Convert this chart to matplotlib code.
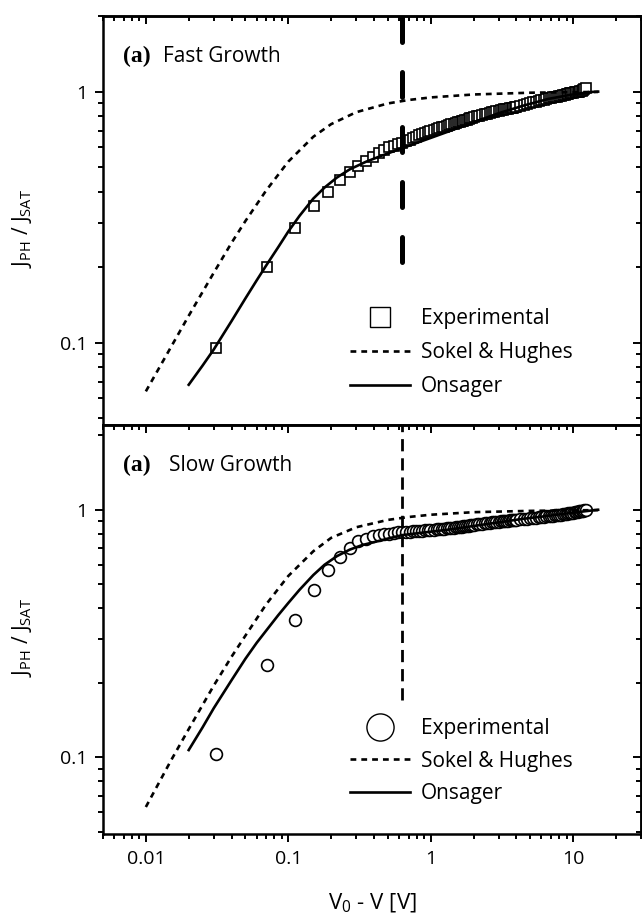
import numpy as np
import matplotlib
matplotlib.use('Agg')
from matplotlib import pyplot as plt
from matplotlib.ticker import FuncFormatter, NullFormatter

plt.rcParams['font.family'] = ['Open Sans', 'DejaVu Sans']

# measured bias points (V0 - V), shared by both panels
exp_v = [0.031, 0.071, 0.111, 0.151, 0.191, 0.231, 0.271, 0.311, 0.351, 0.391,
         0.431, 0.471, 0.511, 0.551, 0.591, 0.631, 0.671, 0.711, 0.751, 0.791,
         0.831, 0.871, 0.911, 0.951, 0.991,
         1.05, 1.1, 1.15, 1.2, 1.25, 1.3, 1.35, 1.4, 1.45, 1.5,
         1.55, 1.6, 1.65, 1.7, 1.75, 1.8, 1.85, 1.9, 1.95, 2.0,
         2.1, 2.2, 2.3, 2.4, 2.5, 2.6, 2.7, 2.8, 2.9, 3.0,
         3.1, 3.2, 3.3, 3.4, 3.5, 3.6, 3.7, 3.8, 3.9, 4.0,
         4.25, 4.5, 4.75, 5.0, 5.25, 5.5, 5.75, 6.0, 6.25, 6.5, 6.75, 7.0,
         7.25, 7.5, 7.75, 8.0, 8.25, 8.5, 8.75, 9.0, 9.25, 9.5, 9.75, 10.0,
         10.25, 10.5, 10.75, 11.0, 11.25, 11.5, 11.75, 12.0, 12.25]

# fast growth, experimental J_PH / J_SAT
fast_exp = [0.095, 0.20, 0.285, 0.35, 0.40, 0.445, 0.48, 0.505, 0.53, 0.55,
            0.57, 0.585, 0.60, 0.61, 0.618, 0.625, 0.635, 0.644, 0.653, 0.661,
            0.67, 0.677, 0.685, 0.692, 0.70,
            0.705, 0.71, 0.715, 0.72, 0.725, 0.73, 0.735, 0.74, 0.745, 0.75,
            0.754, 0.758, 0.762, 0.766, 0.77, 0.774, 0.778, 0.782, 0.786, 0.79,
            0.796, 0.801, 0.806, 0.811, 0.816, 0.821, 0.826, 0.831, 0.836, 0.84,
            0.843, 0.846, 0.849, 0.852, 0.855, 0.858, 0.861, 0.864, 0.867, 0.87,
            0.877, 0.885, 0.892, 0.90, 0.906, 0.912, 0.919, 0.925, 0.93, 0.935, 0.94, 0.945,
            0.949, 0.952, 0.956, 0.96, 0.964, 0.968, 0.971, 0.975, 0.979, 0.983, 0.986, 0.99,
            0.992, 0.995, 0.997, 1.0, 1.005, 1.01, 1.015, 1.02, 1.03]

# slow growth, experimental J_PH / J_SAT
slow_exp = [0.103, 0.235, 0.36, 0.475, 0.57, 0.645, 0.70, 0.745, 0.765, 0.78,
            0.79, 0.795, 0.80, 0.805, 0.81, 0.812, 0.814, 0.816, 0.818, 0.82,
            0.822, 0.824, 0.826, 0.828, 0.83,
            0.832, 0.834, 0.836, 0.838, 0.84, 0.842, 0.844, 0.846, 0.848, 0.85,
            0.852, 0.854, 0.856, 0.858, 0.86, 0.862, 0.864, 0.866, 0.868, 0.87,
            0.873, 0.876, 0.879, 0.882, 0.885, 0.887, 0.889, 0.891, 0.893, 0.895,
            0.897, 0.899, 0.901, 0.903, 0.905, 0.906, 0.907, 0.908, 0.909, 0.91,
            0.914, 0.918, 0.921, 0.925, 0.927, 0.93, 0.932, 0.935, 0.937, 0.94, 0.942, 0.945,
            0.947, 0.95, 0.952, 0.955, 0.957, 0.96, 0.962, 0.965, 0.967, 0.97, 0.972, 0.975,
            0.977, 0.98, 0.982, 0.985, 0.987, 0.99, 0.992, 0.995, 1.0]

# Sokel & Hughes curves
fast_sh_v = [0.01, 0.015, 0.02, 0.03, 0.04, 0.05, 0.07, 0.1, 0.15, 0.2, 0.3, 0.5, 0.7,
             1, 2, 5, 10, 15]
fast_sh = [0.064, 0.096, 0.128, 0.19, 0.25, 0.305, 0.404, 0.526, 0.661, 0.742, 0.828,
           0.897, 0.926, 0.948, 0.974, 0.99, 0.995, 0.997]
slow_sh_v = [0.01, 0.015, 0.02, 0.03, 0.04, 0.05, 0.07, 0.1, 0.15, 0.2, 0.3, 0.5, 0.7,
             1, 2, 5, 10, 15]
slow_sh = [0.063, 0.097, 0.13, 0.195, 0.255, 0.31, 0.415, 0.54, 0.68, 0.77, 0.85,
           0.91, 0.935, 0.955, 0.978, 0.99, 0.995, 0.997]

# Onsager curves
fast_ons_v = [0.02, 0.025, 0.03, 0.04, 0.05, 0.06, 0.07, 0.085, 0.1, 0.12, 0.15, 0.18,
              0.22, 0.27, 0.35, 0.45, 0.63, 0.9, 1.3, 2, 3, 4.5, 6.7, 9.5, 12.8, 15]
fast_ons = [0.068, 0.081, 0.094, 0.122, 0.15, 0.177, 0.203, 0.24, 0.277, 0.32, 0.375,
            0.415, 0.455, 0.49, 0.525, 0.555, 0.595, 0.64, 0.69, 0.755, 0.82, 0.88,
            0.935, 0.97, 0.995, 1.0]
slow_ons_v = [0.02, 0.025, 0.03, 0.04, 0.05, 0.06, 0.07, 0.085, 0.1, 0.12, 0.15, 0.18,
              0.22, 0.27, 0.33, 0.4, 0.5, 0.63, 0.9, 1.3, 2, 3, 4.5, 6.7, 9.5, 12.8, 15]
slow_ons = [0.107, 0.132, 0.158, 0.205, 0.25, 0.29, 0.325, 0.375, 0.42, 0.475, 0.545,
            0.60, 0.65, 0.69, 0.72, 0.74, 0.765, 0.79, 0.81, 0.83, 0.86, 0.89, 0.92,
            0.945, 0.97, 0.99, 1.0]

# vertical dashed markers
vline_v = 0.625
fast_vline_y = [0.21, 2.0]
slow_vline_y = [0.17, 2.2]


def style_axes(ax, ylim):
    ax.set_xscale('log')
    ax.set_yscale('log')
    ax.set_xlim(0.005, 30)
    ax.set_ylim(*ylim)
    for s in ax.spines.values():
        s.set_linewidth(1.8)
    ax.tick_params(which='both', direction='out', width=1.4, labelsize=14,
                   top=False, right=False, pad=6)
    ax.tick_params(which='major', length=5.5)
    ax.tick_params(which='minor', length=3.5)
    fmt = FuncFormatter(lambda v, p: f'{v:g}')
    ax.xaxis.set_major_formatter(fmt)
    ax.yaxis.set_major_formatter(fmt)
    ax.xaxis.set_minor_formatter(NullFormatter())
    ax.yaxis.set_minor_formatter(NullFormatter())
    # inward ticks on top and right
    secx = ax.secondary_xaxis('top')
    secy = ax.secondary_yaxis('right')
    for sec, axis in ((secx, secx.xaxis), (secy, secy.yaxis)):
        sec.tick_params(which='both', direction='in', width=1.4)
        sec.tick_params(which='major', length=5.5)
        sec.tick_params(which='minor', length=3.5)
        axis.set_major_formatter(NullFormatter())
        axis.set_minor_formatter(NullFormatter())
        for s in sec.spines.values():
            s.set_linewidth(1.8)
    ax.set_ylabel(r'J$_\mathregular{PH}$ / J$_\mathregular{SAT}$', fontsize=15)
    ax.yaxis.set_label_coords(-0.128, 0.48)


fig = plt.figure(figsize=(6.42, 9.16), dpi=100)
ax1 = fig.add_axes([0.1604, 0.536, 0.838, 0.4465])
ax2 = fig.add_axes([0.1604, 0.0895, 0.838, 0.4465])

panels = [
    (ax1, fast_exp, 's', 7.5, fast_sh_v, fast_sh, fast_ons_v, fast_ons, fast_vline_y,
     (0.047, 2.0), 'Fast Growth', 0.1115, 2.0, 0.286, 0.62),
    (ax2, slow_exp, 'o', 8.5, slow_sh_v, slow_sh, slow_ons_v, slow_ons, slow_vline_y,
     (0.049, 2.2), 'Slow Growth', 0.123, 2.3, 0.283, 0.55),
]

for ax, ydat, mk, ms, shv, sh, onv, ons, vly, ylim, title, tx, mscale, ly, lsp in panels:
    style_axes(ax, ylim)
    ax.plot(exp_v, ydat, linestyle='none', marker=mk, ms=ms, mfc='white',
            mec='black', mew=1.2, label='Experimental', zorder=2)
    ax.plot(shv, sh, color='black', lw=1.9, dashes=(2.2, 1.9), label='Sokel & Hughes', zorder=3)
    ax.plot(onv, ons, color='black', lw=1.9, label='Onsager', zorder=3)
    if ax is ax1:
        ax.plot([vline_v, vline_v], vly, color='black', lw=3.6, dashes=(5.0, 6.0),
                dash_capstyle='round', zorder=4)
    else:
        ax.plot([vline_v, vline_v], vly, color='black', lw=2.0, dashes=(4.4, 2.5),
                zorder=4)
    ax.text(0.037, 0.888, '(a)', transform=ax.transAxes, fontsize=17,
            fontweight='bold', family='Liberation Serif', va='baseline')
    ax.text(tx, 0.888, title, transform=ax.transAxes, fontsize=15, va='baseline')
    leg = ax.legend(loc='upper left', bbox_to_anchor=(0.459, ly), frameon=False,
                    fontsize=15, handlelength=2.9, handletextpad=0.5, borderpad=0,
                    borderaxespad=0, labelspacing=lsp, markerscale=mscale)
    leg.legend_handles[0].set_markeredgewidth(1.0)

ax1.tick_params(labelbottom=False)
ax2.set_xlabel(r'V$_\mathregular{0}$ - V [V]', fontsize=16, labelpad=17)

fig.savefig('out.png', dpi=100)
